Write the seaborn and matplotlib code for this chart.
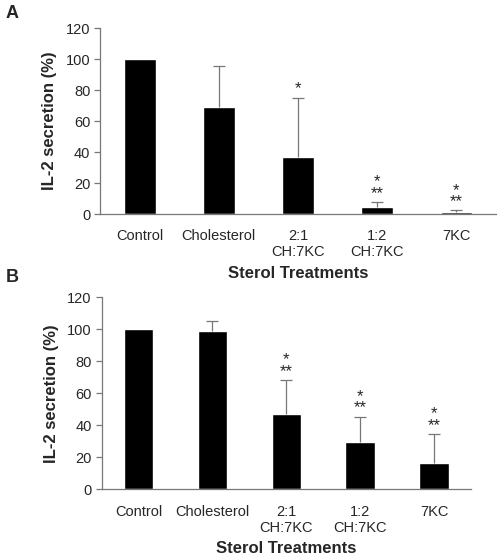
import numpy as np
import pandas as pd
import matplotlib.pyplot as plt
import seaborn as sns

# ============================
# DATA
# ============================
treatments = ["Control", "Cholesterol", "2:1\nCH:7KC", "1:2\nCH:7KC", "7KC"]

secretion_a = [100, 69, 36.6, 4.7, 1.5]
error_a = [0, 26.7, 38.5, 3.0, 0.8]
signif_a = ["", "", "*", "*\n**", "*\n**"]

secretion_b = [100, 99, 46.8, 29.6, 16.4]
error_b = [0, 6.4, 21.3, 15.6, 18.0]
signif_b = ["", "", "*\n**", "*\n**", "*\n**"]

yticks = [0, 20, 40, 60, 80, 100, 120]

sns.set_style("white")
plt.rcParams["font.family"] = ["Liberation Sans", "DejaVu Sans"]

fig = plt.figure(figsize=(4.98, 5.55), dpi=100)
ax_a = fig.add_axes([0.201, 0.6144, 0.795, 0.335])
ax_b = fig.add_axes([0.204, 0.1184, 0.742, 0.346])

GREY = "#777777"


def draw_panel(ax, values, errors, signif):
    df = pd.DataFrame({"Treatment": treatments, "Secretion": values})
    sns.barplot(data=df, x="Treatment", y="Secretion", color="black",
                width=0.4, saturation=1, errorbar=None, ax=ax)
    xs = np.arange(len(treatments))
    vals = np.array(values, dtype=float)
    errs = np.array(errors, dtype=float)
    has = errs > 0
    # upper-only error bars
    ax.vlines(xs[has], vals[has], vals[has] + errs[has], color=GREY, lw=0.9)
    ax.plot(xs[has], vals[has] + errs[has], ls="none", marker="_",
            markersize=8, mew=0.9, color=GREY)
    for x, v, e, s in zip(xs, vals, errs, signif):
        if s:
            ax.annotate(s, (x, v + e), xytext=(0, 1), textcoords="offset points",
                        ha="center", va="bottom", fontsize=12, linespacing=0.7)
    ax.set_ylim(0, 120)
    ax.set_xlim(-0.5, len(treatments) - 0.5)
    ax.set_yticks(yticks)
    ax.set_xticks(np.arange(-0.5, len(treatments)), minor=True)
    ax.tick_params(axis="x", which="major", length=0, pad=11, labelsize=10.5)
    ax.tick_params(axis="x", which="minor", length=4, color=GREY, width=0.9)
    ax.tick_params(axis="y", length=4, color=GREY, width=0.9, labelsize=10.5,
                   left=True, pad=3)
    for side in ["top", "right"]:
        ax.spines[side].set_visible(False)
    for side in ["left", "bottom"]:
        ax.spines[side].set_color(GREY)
        ax.spines[side].set_linewidth(0.9)
    ax.set_ylabel("IL-2 secretion (%)", fontsize=12, fontweight="bold", labelpad=6)
    ax.set_xlabel("Sterol Treatments", fontsize=12, fontweight="bold", labelpad=4.5)


draw_panel(ax_a, secretion_a, error_a, signif_a)
draw_panel(ax_b, secretion_b, error_b, signif_b)

fig.text(0.012, 0.975, "A", fontsize=13, fontweight="bold", va="center")
fig.text(0.012, 0.50, "B", fontsize=13, fontweight="bold", va="center")

fig.savefig("out.png", dpi=100)
